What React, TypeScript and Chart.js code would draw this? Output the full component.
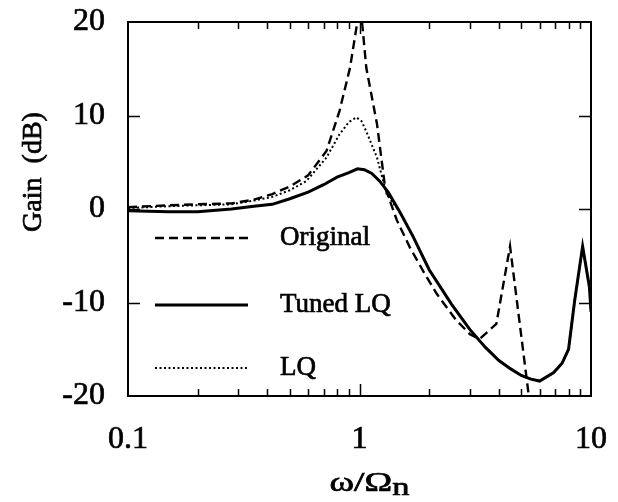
import React, { useEffect, useRef } from "react";
import { Chart, registerables } from "chart.js";

Chart.register(...registerables);

// ---- data ----
const originalFreq = [0.1, 0.15, 0.2, 0.28, 0.35, 0.42, 0.5, 0.6, 0.72, 0.82, 0.91, 0.97, 1.0, 1.03, 1.07, 1.19, 1.29, 1.45, 1.65, 1.9, 2.16, 2.6, 3.0, 3.3, 3.9, 4.47, 5.4, 5.7];
const originalGain = [0.2, 0.4, 0.5, 0.6, 1.0, 1.6, 2.4, 3.6, 6.2, 10.5, 15.1, 19.4, 23, 19.5, 15.1, 9.1, 2.3, -1.2, -4.1, -6.8, -9.1, -11.8, -13.4, -13.9, -12.3, -4.0, -20.2, -24];

const tunedFreq = [0.1, 0.15, 0.2, 0.28, 0.35, 0.42, 0.5, 0.6, 0.7, 0.8, 0.9, 0.98, 1.05, 1.13, 1.22, 1.33, 1.5, 1.7, 2.0, 2.5, 3.0, 3.5, 4.0, 4.5, 5.0, 5.5, 6.0, 6.9, 7.5, 8.0, 8.5, 9.2, 9.85, 10];
const tunedGain = [-0.2, -0.3, -0.3, 0.0, 0.3, 0.5, 1.1, 1.8, 2.6, 3.4, 3.9, 4.3, 4.2, 3.8, 3.0, 1.8, -0.4, -2.9, -6.5, -10.2, -12.9, -14.8, -16.2, -17.1, -17.8, -18.2, -18.4, -17.5, -16.5, -15.0, -9.8, -4.0, -8.4, -11];

const lqFreq = [0.1, 0.15, 0.2, 0.28, 0.35, 0.42, 0.5, 0.59, 0.72, 0.82, 0.9, 0.97, 1.02, 1.07, 1.19, 1.31, 1.5, 1.7, 2.0, 2.5, 3.0, 3.5, 4.0, 4.5, 5.0, 5.5, 6.0, 6.9, 7.5, 8.0, 8.5, 9.2, 9.85, 10];
const lqGain = [0.1, 0.3, 0.4, 0.5, 0.9, 1.3, 2.0, 3.0, 5.5, 8.0, 9.3, 9.8, 9.4, 8.3, 5.5, 1.6, -0.4, -2.9, -6.5, -10.2, -12.9, -14.8, -16.2, -17.1, -17.8, -18.2, -18.4, -17.5, -16.5, -15.0, -9.8, -4.0, -8.4, -11];

const seriesLabels = ["Original", "Tuned LQ", "LQ"];
const xTickValues = [0.1, 1, 10];
const xTickLabels = ["0.1", "1", "10"];
const xMinorTicks = [0.2, 0.3, 0.4, 0.5, 0.6, 0.7, 0.8, 0.9, 2, 3, 4, 5, 6, 7, 8, 9];
const yTickValues = [-20, -10, 0, 10, 20];
const yTickLabels = ["-20", "-10", "0", "10", "20"];
const yTitle = "Gain  (dB)";
const xTitleMain = "ω/Ω";
const xTitleSub = "n";

const FONT = "'Liberation Serif', 'Times New Roman', serif";
const TEXT_STROKE = 0.7;

export default function App() {
  const ref = useRef<HTMLCanvasElement | null>(null);

  useEffect(() => {
    const canvas = ref.current;
    if (!canvas) return;

    const toPts = (xs: number[], ys: number[]) => xs.map((x, i) => ({ x, y: ys[i] }));

    const heavyText = (ctx: CanvasRenderingContext2D, t: string, x: number, y: number) => {
      ctx.fillText(t, x, y);
      ctx.save();
      ctx.setLineDash([]);
      ctx.lineWidth = TEXT_STROKE;
      ctx.strokeStyle = "#000";
      ctx.strokeText(t, x, y);
      ctx.restore();
    };

    const decor = {
      id: "decor",
      afterDraw(chart: any) {
        const { ctx, chartArea, scales } = chart;
        const xs = scales.x;
        const ys = scales.y;
        const { left, right, top, bottom } = chartArea;
        ctx.save();
        ctx.strokeStyle = "#000";
        ctx.lineWidth = 2;
        ctx.setLineDash([]);
        ctx.strokeRect(left, top, right - left, bottom - top);
        // x ticks (inward, top & bottom)
        ctx.lineWidth = 1.5;
        const drawX = (v: number, len: number) => {
          const p = Math.round(xs.getPixelForValue(v)) + 0.5;
          ctx.beginPath();
          ctx.moveTo(p, bottom);
          ctx.lineTo(p, bottom - len);
          ctx.moveTo(p, top);
          ctx.lineTo(p, top + len);
          ctx.stroke();
        };
        xMinorTicks.forEach((v) => drawX(v, 7));
        drawX(1, 12);
        // y ticks (inward, left & right)
        yTickValues.forEach((v) => {
          if (v === -20 || v === 20) return;
          const p = Math.round(ys.getPixelForValue(v)) + 0.5;
          ctx.beginPath();
          ctx.moveTo(left, p);
          ctx.lineTo(left + 12, p);
          ctx.moveTo(right, p);
          ctx.lineTo(right - 12, p);
          ctx.stroke();
        });

        // legend
        const legendY = [238, 305, 368];
        chart.data.datasets.forEach((ds: any, i: number) => {
          ctx.save();
          ctx.strokeStyle = "#000";
          ctx.lineWidth = ds.borderWidth;
          ctx.setLineDash(ds.borderDash || []);
          ctx.beginPath();
          ctx.moveTo(155, legendY[i]);
          ctx.lineTo(248, legendY[i]);
          ctx.stroke();
          ctx.restore();
          ctx.fillStyle = "#000";
          ctx.font = `27px ${FONT}`;
          ctx.textAlign = "left";
          ctx.textBaseline = "middle";
          heavyText(ctx, ds.label, 280, legendY[i]);
        });

        // y title
        ctx.save();
        ctx.fillStyle = "#000";
        ctx.font = `28px ${FONT}`;
        ctx.translate(34, 172);
        ctx.rotate(-Math.PI / 2);
        ctx.textAlign = "center";
        ctx.textBaseline = "middle";
        heavyText(ctx, yTitle, 0, 0);
        ctx.restore();

        // x title with subscript (stretched horizontally like the original)
        ctx.save();
        ctx.fillStyle = "#000";
        ctx.textBaseline = "alphabetic";
        ctx.textAlign = "left";
        const sx = 1.38;
        ctx.font = `27px ${FONT}`;
        const w1 = ctx.measureText(xTitleMain).width;
        ctx.font = `25px ${FONT}`;
        const w2 = ctx.measureText(xTitleSub).width;
        const total = (w1 + w2) * sx;
        const x0 = 369.5 - total / 2;
        ctx.translate(x0, 0);
        ctx.scale(sx, 1);
        ctx.font = `27px ${FONT}`;
        heavyText(ctx, xTitleMain, 0, 491);
        ctx.font = `25px ${FONT}`;
        heavyText(ctx, xTitleSub, w1, 495);
        ctx.restore();
        ctx.restore();
      },
    };

    const chart = new Chart(canvas, {
      type: "line",
      data: {
        datasets: [
          {
            label: seriesLabels[0],
            data: toPts(originalFreq, originalGain),
            borderColor: "#000",
            borderWidth: 2.4,
            borderDash: [9, 5],
            pointRadius: 0,
            tension: 0,
            fill: false,
            clip: 0,
          },
          {
            label: seriesLabels[1],
            data: toPts(tunedFreq, tunedGain),
            borderColor: "#000",
            borderWidth: 3,
            pointRadius: 0,
            tension: 0,
            fill: false,
            clip: 0,
          },
          {
            label: seriesLabels[2],
            data: toPts(lqFreq, lqGain),
            borderColor: "#000",
            borderWidth: 2,
            borderDash: [2, 2.5],
            pointRadius: 0,
            tension: 0,
            fill: false,
            clip: 0,
          },
        ] as any,
      },
      options: {
        responsive: false,
        animation: false,
        devicePixelRatio: 1,
        layout: { padding: { left: 0, right: 27, top: 22, bottom: 0 } },
        plugins: { legend: { display: false }, tooltip: { enabled: false }, title: { display: false } },
        scales: {
          x: {
            type: "logarithmic",
            min: 0.1,
            max: 10,
            afterBuildTicks: (s: any) => {
              s.ticks = xTickValues.map((v) => ({ value: v }));
            },
            afterFit: (s: any) => {
              s.height = 106;
              s.paddingLeft = 0;
              s.paddingRight = 0;
            },
            grid: { display: false, drawTicks: false },
            border: { display: false },
            ticks: {
              autoSkip: false,
              maxRotation: 0,
              padding: 24,
              color: "#000",
              textStrokeColor: "#000",
              textStrokeWidth: TEXT_STROKE,
              font: { family: FONT, size: 32 },
              callback: (v: any) => {
                const i = xTickValues.findIndex((t) => Math.abs(t - Number(v)) < 1e-9);
                return i >= 0 ? xTickLabels[i] : "";
              },
            },
          },
          y: {
            min: -20,
            max: 20,
            afterBuildTicks: (s: any) => {
              s.ticks = yTickValues.map((v) => ({ value: v }));
            },
            afterFit: (s: any) => {
              s.width = 128;
              s.paddingTop = 0;
              s.paddingBottom = 0;
            },
            grid: { display: false, drawTicks: false },
            border: { display: false },
            ticks: {
              padding: 23,
              color: "#000",
              textStrokeColor: "#000",
              textStrokeWidth: TEXT_STROKE,
              font: { family: FONT, size: 32 },
              callback: (v: any) => {
                const i = yTickValues.indexOf(Number(v));
                return i >= 0 ? yTickLabels[i] : "";
              },
            },
          },
        },
      },
      plugins: [decor],
    } as any);

    return () => chart.destroy();
  }, []);

  return (
    <div style={{ position: "fixed", left: 0, top: 0, width: 618, height: 502, background: "#fff" }}>
      <canvas ref={ref} width={618} height={502} style={{ display: "block" }} />
    </div>
  );
}
